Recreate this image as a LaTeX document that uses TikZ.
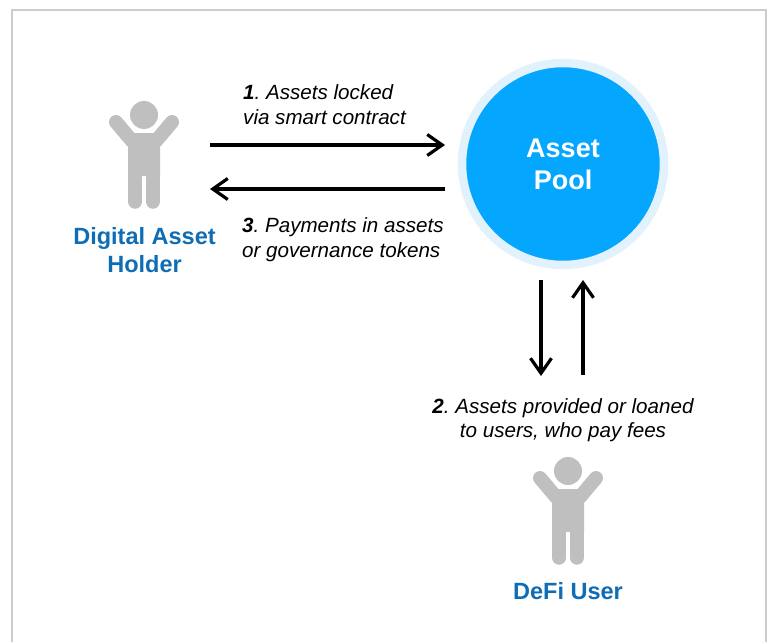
\documentclass[tikz,border=0pt]{standalone}
\usepackage{fontspec}
\setmainfont{Liberation Sans}
\usetikzlibrary{arrows.meta}
\definecolor{poolblue}{HTML}{05A6FD}
\definecolor{poolring}{HTML}{E1F2FD}
\definecolor{labelblue}{HTML}{0F6DB5}
\definecolor{persongray}{HTML}{BFBFBF}
\definecolor{framegray}{HTML}{CCCCCC}
\tikzset{
    flow/.style={line width=3.2pt, -{Straight Barb[length=15pt,width=21pt,line width=3.2pt]}},
    role/.style={font=\fontsize{23.5}{28.5}\selectfont\bfseries, text=labelblue, align=center},
    note/.style={font=\fontsize{20.6}{24.5}\selectfont\itshape, align=left, inner sep=0pt},
    person/.pic={
        \fill[persongray] (0,-40) circle (14);
        \draw[persongray, line width=14pt, line cap=round] (-28,-33) -- (-12,-14);
        \draw[persongray, line width=14pt, line cap=round] (28,-33) -- (12,-14);
        \fill[persongray] (-12,-22) -- (12,-22) -- (16,-14) -- (16,21) -- (-16,21) -- (-16,-14) -- cycle;
        \draw[persongray, line width=14.5pt, line cap=round] (-8.8,10) -- (-8.8,46.5);
        \draw[persongray, line width=14.5pt, line cap=round] (8.8,10) -- (8.8,46.5);
    }
}
\begin{document}
\frenchspacing
\begin{tikzpicture}[x=1pt,y=-1pt]
\useasboundingbox (0,0) rectangle (770,642);
\draw[framegray, line width=2pt] (11.5,642) -- (11.5,10.5) -- (766,10.5) -- (766,642);

% pool
\node[circle, fill=poolblue, draw=poolring, line width=8.5pt, minimum size=202pt, inner sep=0pt,
      font=\fontsize{27}{32}\selectfont\bfseries, text=white, align=center] (pool) at (563,164) {Asset\\Pool};

% people
\pic at (144,155) {person};
\pic at (568,511) {person};
\node[role] (holder) at (144.5,250) {Digital Asset\\Holder};
\node[role] (user) at (568,591) {DeFi User};

% anchors for the arrows
\coordinate (holderin) at (210,145);
\coordinate (holderout) at (210,189);
\coordinate (poolin) at (445,145);
\coordinate (poolout) at (445,189);
\coordinate (userout) at (541,280);
\coordinate (userdown) at (541,376);
\coordinate (userin) at (583,375);
\coordinate (userup) at (583,280);

\draw[flow] (holderin) -- (poolin);
\draw[flow] (poolout) -- (holderout);
\draw[flow] (userout) -- (userdown);
\draw[flow] (userin) -- (userup);

% notes
\node[note, anchor=west] (lock) at (243,104.5) {{\bfseries 1}. Assets locked\\via smart contract};
\node[note, anchor=west] (pay) at (242,239.5) {{\bfseries 3}. Payments in assets\\or governance tokens};
\node[note, anchor=center, align=center] (loan) at (563,420) {{\bfseries 2}. Assets provided or loaned\\to users, who pay fees};
\end{tikzpicture}
\end{document}
